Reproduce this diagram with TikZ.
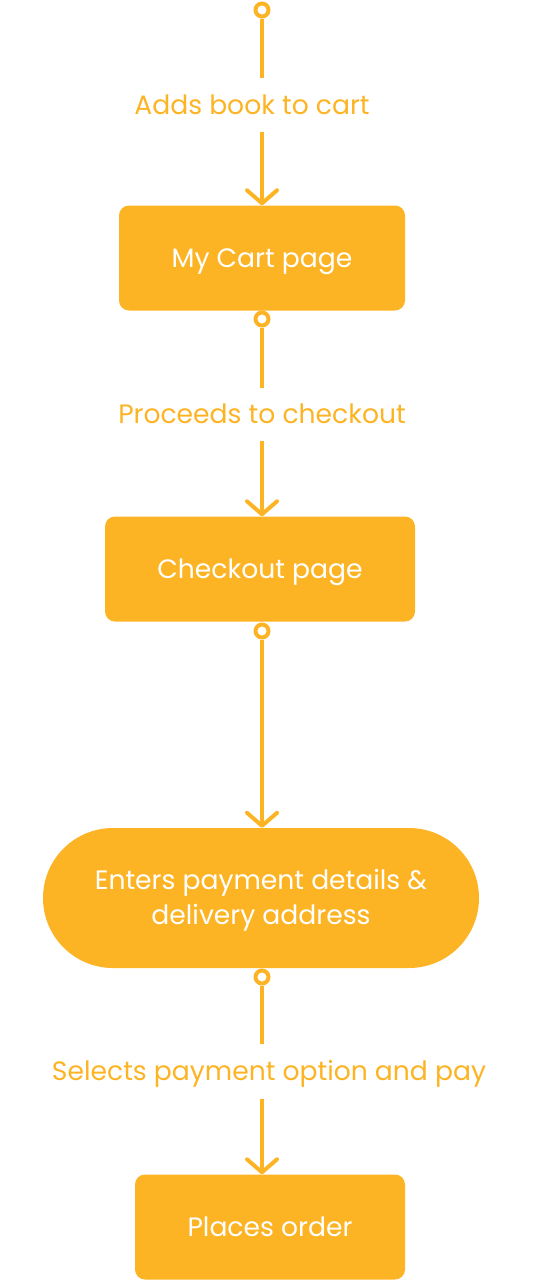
\documentclass[tikz,border=0pt]{standalone}
\usepackage{fontspec}
\setmainfont{Poppins}
\usetikzlibrary{arrows.meta}
\definecolor{flow}{HTML}{FDB424}
\tikzset{
  dot/.style={circle, draw=flow, fill=white, line width=4pt, minimum size=13pt, inner sep=0pt},
  lbl/.style={text=flow, font=\fontsize{26.6}{30}\selectfont, text height=18.5pt, text depth=0pt, inner sep=0pt},
  box/.style={fill=flow, text=white, font=\fontsize{26.6}{35}\selectfont, rounded corners=10pt, inner sep=0pt, align=center, text height=18.5pt, text depth=0pt},
  conn/.style={draw=flow, line width=4pt},
  arr/.style={conn, -{Straight Barb[length=13pt,width=30pt,round]}}
}
\begin{document}
\begin{tikzpicture}[x=1pt,y=-1pt]
\useasboundingbox (0,0) rectangle (538,1280);
% boxes
\node[box, minimum width=286pt, minimum height=105pt] (b1) at (262,258) {My Cart page};
\node[box, minimum width=310pt, minimum height=105pt] (b2) at (260,569) {Checkout page};
\node[box, minimum width=436pt, minimum height=140pt, rounded corners=70pt, text height=53.5pt] (b3) at (261,898) {Enters payment details \&\\delivery address};
\node[box, minimum width=270pt, minimum height=105pt] (b4) at (270,1227) {Places order};
% labels
\node[lbl, minimum height=54pt] (l0) at (252,105) {Adds book to cart};
\node[lbl, minimum height=53pt] (l1) at (262,414.5) {Proceeds to checkout};
\node[lbl, minimum height=55pt] (l3) at (269,1071.5) {Selects payment option and pay};
% dots
\node[dot] (c0) at (262,10) {};
\node[dot] (c1) at (262,319) {};
\node[dot] (c2) at (262,631) {};
\node[dot] (c3) at (262,977) {};
% connectors
\draw[conn] (c0.south) -- (c0.south |- l0.north);
\draw[arr] (c0.south |- l0.south) -- (c0.south |- b1.north);
\draw[conn] (c1.south) -- (c1.south |- l1.north);
\draw[arr] (c1.south |- l1.south) -- (c1.south |- b2.north);
\draw[arr] (c2.south) -- (c2.south |- b3.north);
\draw[conn] (c3.south) -- (c3.south |- l3.north);
\draw[arr] (c3.south |- l3.south) -- (c3.south |- b4.north);
\end{tikzpicture}
\end{document}
